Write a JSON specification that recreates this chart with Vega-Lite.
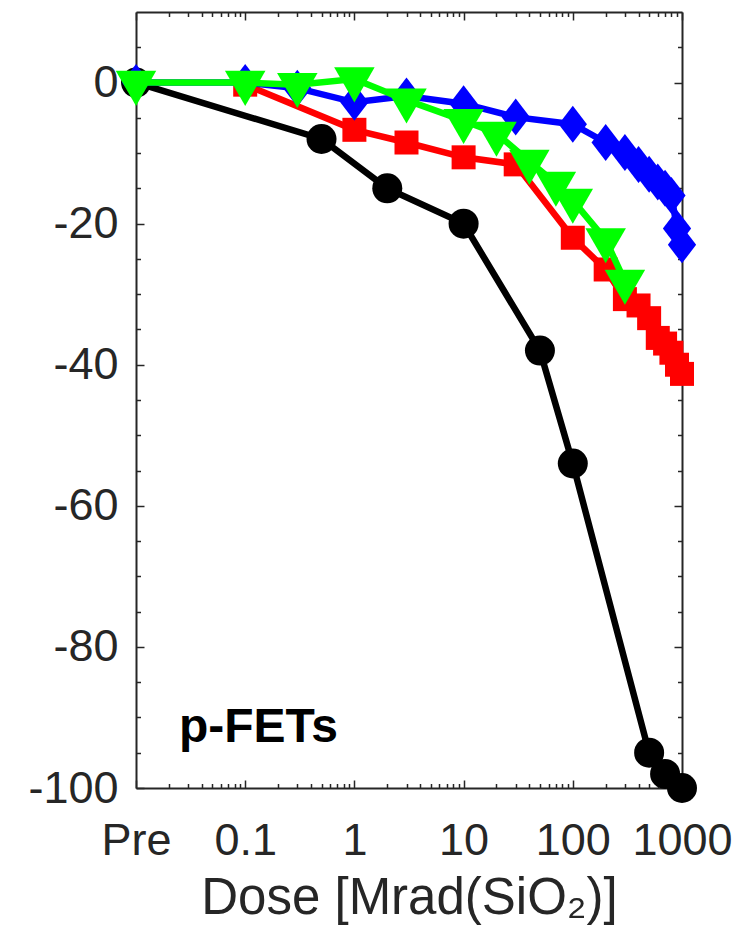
{
  "$schema": "https://vega.github.io/schema/vega-lite/v6.json",
  "width": 546,
  "height": 776,
  "autosize": {"type": "none"},
  "padding": {"left": 136, "top": 12, "right": 51, "bottom": 160},
  "background": "white",
  "config": {
    "view": {"stroke": null},
    "axis": {
      "grid": false,
      "domainColor": "#262626",
      "domainWidth": 2,
      "tickColor": "#262626",
      "tickWidth": 1.5,
      "labelColor": "#262626",
      "labelFont": "Liberation Sans",
      "titleFont": "Liberation Sans",
      "titleColor": "#262626",
      "titleFontWeight": "normal"
    }
  },
  "datasets": {
    "black": [
      {"dose": 0.01, "value": 0},
      {"dose": 0.5, "value": -8},
      {"dose": 2, "value": -15},
      {"dose": 10, "value": -20},
      {"dose": 50, "value": -38},
      {"dose": 100, "value": -54},
      {"dose": 500, "value": -95},
      {"dose": 700, "value": -98},
      {"dose": 1000, "value": -100}
    ],
    "red": [
      {"dose": 0.1, "value": -0.3},
      {"dose": 1, "value": -6.7},
      {"dose": 3, "value": -8.5},
      {"dose": 10, "value": -10.6},
      {"dose": 30, "value": -11.6},
      {"dose": 100, "value": -22},
      {"dose": 200, "value": -26.5},
      {"dose": 300, "value": -30.7},
      {"dose": 400, "value": -31.6},
      {"dose": 500, "value": -33.4},
      {"dose": 600, "value": -36.2},
      {"dose": 700, "value": -37},
      {"dose": 800, "value": -38.3},
      {"dose": 900, "value": -40},
      {"dose": 1000, "value": -41.3}
    ],
    "blue": [
      {"dose": 0.01, "value": 0},
      {"dose": 0.1, "value": 0},
      {"dose": 0.3, "value": -0.8},
      {"dose": 1, "value": -2.8},
      {"dose": 3, "value": -1.9},
      {"dose": 10, "value": -3},
      {"dose": 30, "value": -4.9},
      {"dose": 100, "value": -5.9},
      {"dose": 200, "value": -8.5},
      {"dose": 300, "value": -9.9},
      {"dose": 400, "value": -11.6},
      {"dose": 500, "value": -13},
      {"dose": 600, "value": -14.1},
      {"dose": 700, "value": -15},
      {"dose": 800, "value": -16},
      {"dose": 900, "value": -20.7},
      {"dose": 1000, "value": -23}
    ],
    "green": [
      {"dose": 0.01, "value": 0},
      {"dose": 0.1, "value": 0},
      {"dose": 0.3, "value": -0.3},
      {"dose": 1, "value": 0.5},
      {"dose": 3, "value": -2.5},
      {"dose": 10, "value": -5.4},
      {"dose": 20, "value": -7.2},
      {"dose": 40, "value": -11.2},
      {"dose": 70, "value": -14.3},
      {"dose": 100, "value": -16.7},
      {"dose": 200, "value": -22.3},
      {"dose": 300, "value": -28.2}
    ],
    "labels": [
      {"dose": 0.0247, "value": -93.5, "text": "p-FETs"}
    ]
  },
  "resolve": {"axis": {"x": "independent", "y": "independent"}},
  "layer": [
    {
      "data": {"name": "black"},
      "mark": {"type": "line", "color": "#000000", "strokeWidth": 6.5, "point": {"shape": "circle", "size": 900, "filled": true, "color": "#000000", "opacity": 1}},
      "encoding": {
        "x": {
          "field": "dose", "type": "quantitative",
          "scale": {"type": "log", "domain": [0.01, 1000], "nice": false},
          "title": "Dose [Mrad(SiO₂)]",
          "axis": {
            "orient": "bottom",
            "values": [0.01, 0.1, 1, 10, 100, 1000],
            "labelExpr": "datum.value < 0.05 ? 'Pre' : '' + datum.value",
            "labelFontSize": 45,
            "labelPadding": 38,
            "labelFlush": false,
            "labelOverlap": false,
            "labelBound": false,
            "tickSize": -8,
            "domain": true,
            "titleFontSize": 51,
            "titlePadding": 10
          }
        },
        "y": {
          "field": "value", "type": "quantitative",
          "scale": {"domain": [-100, 10], "nice": false, "zero": false},
          "title": null,
          "axis": {
            "orient": "left",
            "values": [-100, -80, -60, -40, -20, 0],
            "labelExpr": "'' + datum.value",
            "labelFontSize": 45,
            "labelPadding": 26,
            "labelOverlap": false,
            "labelBound": false,
            "tickSize": -8,
            "domain": true
          }
        }
      }
    },
    {
      "data": {"name": "red"},
      "mark": {"type": "line", "color": "#ff0000", "strokeWidth": 6.5, "point": {"shape": "square", "size": 576, "filled": true, "color": "#ff0000", "opacity": 1}},
      "encoding": {
        "x": {
          "field": "dose", "type": "quantitative",
          "axis": {
            "orient": "bottom",
            "values": [0.02, 0.03, 0.04, 0.05, 0.06, 0.07, 0.08, 0.09, 0.2, 0.3, 0.4, 0.5, 0.6, 0.7, 0.8, 0.9, 2, 3, 4, 5, 6, 7, 8, 9, 20, 30, 40, 50, 60, 70, 80, 90, 200, 300, 400, 500, 600, 700, 800, 900],
            "labels": false,
            "tickSize": -4.5,
            "domain": false,
            "title": null
          }
        },
        "y": {
          "field": "value", "type": "quantitative",
          "axis": {
            "orient": "left",
            "values": [-95, -90, -85, -75, -70, -65, -55, -50, -45, -35, -30, -25, -15, -10, -5, 5],
            "labels": false,
            "tickSize": -4.5,
            "domain": false,
            "title": null
          }
        }
      }
    },
    {
      "data": {"name": "blue"},
      "mark": {"type": "line", "color": "#0000ff", "strokeWidth": 6.5, "point": {"shape": "M0,-1L0.765,0L0,1L-0.765,0Z", "size": 1369, "filled": true, "color": "#0000ff", "opacity": 1}},
      "encoding": {
        "x": {
          "field": "dose", "type": "quantitative",
          "axis": {
            "orient": "top",
            "values": [0.01, 0.1, 1, 10, 100, 1000],
            "labels": false,
            "tickSize": -8,
            "domain": true,
            "title": null
          }
        },
        "y": {
          "field": "value", "type": "quantitative",
          "axis": {
            "orient": "right",
            "values": [-100, -80, -60, -40, -20, 0],
            "labels": false,
            "tickSize": -8,
            "domain": true,
            "title": null
          }
        }
      }
    },
    {
      "data": {"name": "green"},
      "mark": {"type": "line", "color": "#00ff00", "strokeWidth": 6.5, "point": {"shape": "M-1,-0.577L1,-0.577L0,1.155Z", "size": 1640, "filled": true, "color": "#00ff00", "opacity": 1}},
      "encoding": {
        "x": {
          "field": "dose", "type": "quantitative",
          "axis": {
            "orient": "top",
            "values": [0.02, 0.03, 0.04, 0.05, 0.06, 0.07, 0.08, 0.09, 0.2, 0.3, 0.4, 0.5, 0.6, 0.7, 0.8, 0.9, 2, 3, 4, 5, 6, 7, 8, 9, 20, 30, 40, 50, 60, 70, 80, 90, 200, 300, 400, 500, 600, 700, 800, 900],
            "labels": false,
            "tickSize": -4.5,
            "domain": false,
            "title": null
          }
        },
        "y": {
          "field": "value", "type": "quantitative",
          "axis": {
            "orient": "right",
            "values": [-95, -90, -85, -75, -70, -65, -55, -50, -45, -35, -30, -25, -15, -10, -5, 5],
            "labels": false,
            "tickSize": -4.5,
            "domain": false,
            "title": null
          }
        }
      }
    },
    {
      "data": {"name": "labels"},
      "mark": {"type": "text", "align": "left", "baseline": "alphabetic", "font": "Liberation Sans", "fontSize": 48, "fontWeight": "bold", "color": "#000000"},
      "encoding": {
        "x": {"field": "dose", "type": "quantitative", "axis": null},
        "y": {"field": "value", "type": "quantitative", "axis": null},
        "text": {"field": "text"}
      }
    }
  ]
}
